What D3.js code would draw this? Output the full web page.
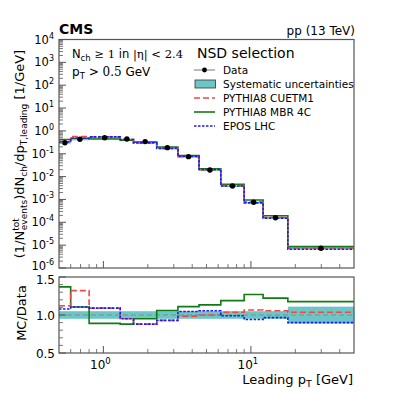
<!DOCTYPE html>
<html>
<head>
<meta charset="utf-8">
<script src="https://cdn.jsdelivr.net/npm/d3@7"></script>
<style>
  body { margin: 0; background: #fff; }
  svg { font-family: "DejaVu Sans", sans-serif; }
</style>
</head>
<body>
<div id="chart"></div>
<script>
// bin edges of leading pT [GeV]
var edges = [0.5, 0.6, 0.8, 1.3, 1.6, 2.3, 3.2, 4.45, 6.25, 9.0, 12.1, 17.8, 50];
// measured (1/N) dN/dpT,leading
var dataVals = [0.305, 0.43, 0.50, 0.44, 0.34, 0.185, 0.0745, 0.0195, 0.0039, 0.00075, 0.000158, 0.0000073];
// relative systematic uncertainty
var systRel = [0.05, 0.05, 0.05, 0.05, 0.05, 0.05, 0.05, 0.05, 0.05, 0.05, 0.05, 0.11];
// generator predictions
var cuetm1 = [0.342, 0.568, 0.545, 0.418, 0.299, 0.172, 0.0734, 0.0195, 0.00404, 0.000799, 0.0001667, 0.00000756];
var mbr4c = [0.418, 0.475, 0.445, 0.387, 0.323, 0.196, 0.0827, 0.0221, 0.00464, 0.000953, 0.000193, 0.00000858];
var eposlhc = [0.329, 0.475, 0.545, 0.418, 0.299, 0.172, 0.0779, 0.0206, 0.00386, 0.000705, 0.0001525, 0.00000657];

var mainYTicks = [-6, -5, -4, -3, -2, -1, 0, 1, 2, 3, 4];
var ratioTicks = [0.5, 1.0, 1.5];
var xTickLabels = [1, 10];

var W = 393, H = 393;
var svg = d3.select("#chart").append("svg").attr("width", W).attr("height", H);

var x = d3.scaleLog().domain([0.5, 50]).range([59, 354]);
var y = d3.scaleLog().domain([1e-6, 1e4]).range([268, 39.5]);
var yr = d3.scaleLinear().domain([0.5, 1.5]).range([353, 277]);

var teal = "#6cc6c6";
var models = [
  {name: "PYTHIA8 MBR 4C", vals: mbr4c, color: "#127a12", dash: null},
  {name: "PYTHIA8 CUETM1", vals: cuetm1, color: "#f04848", dash: "6,3"},
  {name: "EPOS LHC", vals: eposlhc, color: "#1a1aff", dash: "2.5,1.5"}
];

function stepPath(vals, ys) {
  var p = "";
  vals.forEach(function (v, i) {
    var x0 = x(edges[i]), x1 = x(edges[i + 1]), yy = ys(v);
    p += (i === 0 ? "M" : "L") + x0 + "," + yy + "L" + x1 + "," + yy;
  });
  return p;
}

// ---------- main panel ----------
var main = svg.append("g");
main.append("defs").append("clipPath").attr("id", "clipMain")
  .append("rect").attr("x", 59).attr("y", 39.5).attr("width", 295).attr("height", 228.5);

// syst boxes
main.append("g").selectAll("rect").data(dataVals).join("rect")
  .attr("x", function (d, i) { return x(edges[i]); })
  .attr("width", function (d, i) { return x(edges[i + 1]) - x(edges[i]); })
  .attr("y", function (d, i) { return y(d * (1 + systRel[i])); })
  .attr("height", function (d, i) { return Math.max(1.5, y(d * (1 - systRel[i])) - y(d * (1 + systRel[i]))); })
  .attr("fill", teal);

models.forEach(function (m) {
  main.append("path").attr("d", stepPath(m.vals, y))
    .attr("fill", "none").attr("stroke", m.color).attr("stroke-width", 1.6)
    .attr("stroke-dasharray", m.dash).attr("clip-path", "url(#clipMain)");
});

main.append("g").selectAll("circle").data(dataVals).join("circle")
  .attr("cx", function (d, i) { return x(Math.sqrt(edges[i] * edges[i + 1])); })
  .attr("cy", function (d) { return y(d); })
  .attr("r", 2.7).attr("fill", "#000");

main.append("rect").attr("x", 59).attr("y", 39.5).attr("width", 295).attr("height", 228.5)
  .attr("fill", "none").attr("stroke", "#555").attr("stroke-width", 1.2);

// main y ticks
var yMinor = [];
mainYTicks.forEach(function (k) {
  if (k < 4) for (var m = 2; m < 10; m++) yMinor.push(m * Math.pow(10, k));
});
main.append("g").selectAll("line.min").data(yMinor).join("line")
  .attr("x1", 59).attr("x2", 63).attr("y1", function (d) { return y(d); }).attr("y2", function (d) { return y(d); })
  .attr("stroke", "#555").attr("stroke-width", 0.8);
main.append("g").selectAll("line.maj").data(mainYTicks).join("line")
  .attr("x1", 59).attr("x2", 66).attr("y1", function (d) { return y(Math.pow(10, d)); }).attr("y2", function (d) { return y(Math.pow(10, d)); })
  .attr("stroke", "#555").attr("stroke-width", 1);
var yl = main.append("g").selectAll("text").data(mainYTicks).join("text")
  .attr("x", 54).attr("y", function (d) { return y(Math.pow(10, d)) + (d === -6 ? 2 : 4); })
  .attr("text-anchor", "end").attr("font-size", 11.5);
yl.append("tspan").text("10");
yl.append("tspan").attr("dy", -5).attr("font-size", 8).text(function (d) { return d < 0 ? "-" + (-d) : d; });

// x ticks (both panels)
var xMajor = [1, 10];
var xMinor = [0.6, 0.7, 0.8, 0.9, 2, 3, 4, 5, 6, 7, 8, 9, 20, 30, 40];
[268, 353].forEach(function (by) {
  svg.append("g").selectAll("line").data(xMinor).join("line")
    .attr("x1", function (d) { return x(d); }).attr("x2", function (d) { return x(d); })
    .attr("y1", by).attr("y2", by - 4).attr("stroke", "#555").attr("stroke-width", 0.8);
  svg.append("g").selectAll("line").data(xMajor).join("line")
    .attr("x1", function (d) { return x(d); }).attr("x2", function (d) { return x(d); })
    .attr("y1", by).attr("y2", by - 7).attr("stroke", "#555").attr("stroke-width", 1);
});

// ---------- ratio panel ----------
var rp = svg.append("g");
rp.append("g").selectAll("rect").data(systRel).join("rect")
  .attr("x", function (d, i) { return x(edges[i]); })
  .attr("width", function (d, i) { return x(edges[i + 1]) - x(edges[i]) + 0.3; })
  .attr("y", function (d) { return yr(1 + d); })
  .attr("height", function (d) { return yr(1 - d) - yr(1 + d); })
  .attr("fill", teal);
rp.append("line").attr("x1", 59).attr("x2", 354).attr("y1", yr(1)).attr("y2", yr(1))
  .attr("stroke", "#888").attr("stroke-width", 1).attr("stroke-dasharray", "5,3");

models.forEach(function (m) {
  var ratios = m.vals.map(function (v, i) { return v / dataVals[i]; });
  rp.append("path").attr("d", stepPath(ratios, yr))
    .attr("fill", "none").attr("stroke", m.color).attr("stroke-width", 1.6)
    .attr("stroke-dasharray", m.dash);
});

rp.append("rect").attr("x", 59).attr("y", 277).attr("width", 295).attr("height", 76)
  .attr("fill", "none").attr("stroke", "#555").attr("stroke-width", 1.2);

var rMinor = d3.range(0.6, 1.45, 0.1).filter(function (d) { return Math.abs(d - 1) > 0.01; });
rp.append("g").selectAll("line").data(rMinor).join("line")
  .attr("x1", 59).attr("x2", 63).attr("y1", function (d) { return yr(d); }).attr("y2", function (d) { return yr(d); })
  .attr("stroke", "#555").attr("stroke-width", 0.8);
rp.append("g").selectAll("line").data(ratioTicks).join("line")
  .attr("x1", 59).attr("x2", 66).attr("y1", function (d) { return yr(d); }).attr("y2", function (d) { return yr(d); })
  .attr("stroke", "#555").attr("stroke-width", 1);
rp.append("g").selectAll("text").data(ratioTicks).join("text")
  .attr("x", 55).attr("y", function (d) { return yr(d) + (d === 1.5 ? 7 : 4.5); })
  .attr("text-anchor", "end").attr("font-size", 12).text(function (d) { return d.toFixed(1); });

var xl = rp.append("g").selectAll("text").data(xTickLabels).join("text")
  .attr("x", function (d) { return x(d) - 3; }).attr("y", 369)
  .attr("text-anchor", "middle").attr("font-size", 12);
xl.append("tspan").text("10");
xl.append("tspan").attr("dy", -5).attr("font-size", 8.5).text(function (d) { return Math.round(Math.log10(d)); });

// ---------- texts ----------
svg.append("text").attr("x", 59).attr("y", 34).attr("font-size", 14).attr("font-weight", "bold").text("CMS");
svg.append("text").attr("x", 355).attr("y", 35).attr("text-anchor", "end").attr("font-size", 12).text("pp (13 TeV)");

var t1 = svg.append("text").attr("x", 72).attr("y", 58).attr("font-size", 11.5).attr("textLength", 111).attr("lengthAdjust", "spacingAndGlyphs");
t1.append("tspan").text("N");
t1.append("tspan").attr("font-size", 8.5).attr("dy", 3).text("ch");
t1.append("tspan").attr("dy", -3).attr("font-family", "DejaVu Serif").text(" \u2265 1");
t1.append("tspan").text(" in ");
t1.append("tspan").attr("font-family", "DejaVu Serif").text("|\u03b7| < 2.4");

var t2 = svg.append("text").attr("x", 72).attr("y", 76).attr("font-size", 12);
t2.append("tspan").text("p");
t2.append("tspan").attr("font-size", 8.5).attr("dy", 3).text("T");
t2.append("tspan").attr("dy", -3).attr("font-family", "DejaVu Serif").text(" > 0.5");
t2.append("tspan").text(" GeV");

// legend
var lg = svg.append("g");
lg.append("text").attr("x", 197).attr("y", 58).attr("font-size", 14).text("NSD selection");
var ly = [70, 84, 98, 112, 126];
lg.append("line").attr("x1", 194).attr("x2", 215).attr("y1", ly[0]).attr("y2", ly[0]).attr("stroke", "#777").attr("stroke-width", 1);
lg.append("circle").attr("cx", 204.5).attr("cy", ly[0]).attr("r", 2.4).attr("fill", "#000");
lg.append("rect").attr("x", 195).attr("y", ly[1] - 4).attr("width", 20.5).attr("height", 8)
  .attr("fill", teal).attr("stroke", "#333").attr("stroke-width", 0.8);
var legModels = [models[1], models[0], models[2]];
legModels.forEach(function (m, i) {
  lg.append("line").attr("x1", 194).attr("x2", 215).attr("y1", ly[i + 2]).attr("y2", ly[i + 2])
    .attr("stroke", m.color).attr("stroke-width", 1.6).attr("stroke-dasharray", m.dash);
});
var legNames = ["Data", "Systematic uncertainties", "PYTHIA8 CUETM1", "PYTHIA8 MBR 4C", "EPOS LHC"];
lg.selectAll("text.e").data(legNames).join("text").attr("class", "e")
  .attr("x", 223).attr("y", function (d, i) { return ly[i] + 4; })
  .attr("font-size", 10.5).text(function (d) { return d; });

// axis titles
var yt = svg.append("text").attr("transform", "translate(24,154) rotate(-90)")
  .attr("text-anchor", "middle").attr("font-size", 13);
yt.append("tspan").text("(1/N");
yt.append("tspan").attr("font-size", 9).attr("dy", -5).text("tot");
yt.append("tspan").attr("font-size", 9).attr("dy", 8).attr("dx", -12).text("events");
yt.append("tspan").attr("dy", -3).text(")dN");
yt.append("tspan").attr("font-size", 9).attr("dy", 3).text("ch");
yt.append("tspan").attr("dy", -3).text("/dp");
yt.append("tspan").attr("font-size", 9).attr("dy", 3).text("T,leading");
yt.append("tspan").attr("dy", -3).text(" [1/GeV]");

svg.append("text").attr("transform", "translate(26,313) rotate(-90)")
  .attr("text-anchor", "middle").attr("font-size", 13).text("MC/Data");

var xt = svg.append("text").attr("x", 353).attr("y", 384).attr("text-anchor", "end").attr("font-size", 13);
xt.append("tspan").text("Leading p");
xt.append("tspan").attr("font-size", 9.5).attr("dy", 3).text("T");
xt.append("tspan").attr("dy", -3).text(" [GeV]");
</script>
</body>
</html>
